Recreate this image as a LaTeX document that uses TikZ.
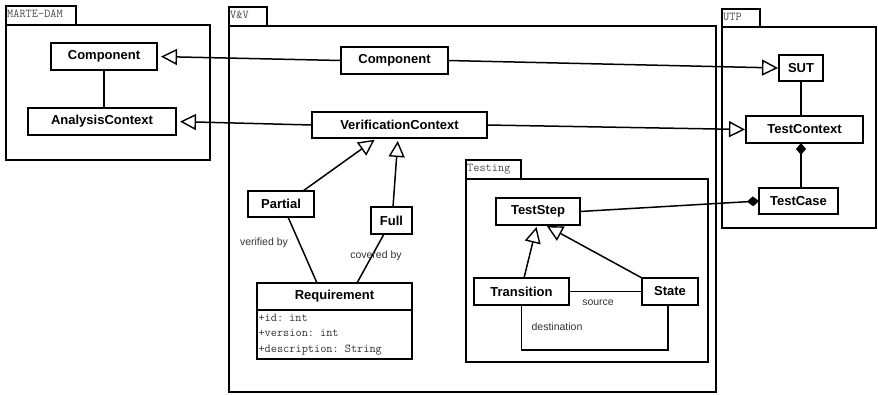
\documentclass[tikz,border=0pt]{standalone}
\usepackage{fontspec}
\setmainfont{Liberation Sans}
\usetikzlibrary{arrows.meta,calc}
\tikzset{
  cls/.style={draw, line width=1.8pt, fill=white, inner sep=0pt, outer sep=0pt,
    font=\fontsize{13}{15}\selectfont\bfseries},
  pkg/.style={draw, line width=1.4pt},
  pkglabel/.style={anchor=north west, inner sep=0pt, text=black!70,
    font=\fontsize{12}{13}\ttfamily},
  conn/.style={line width=1.5pt},
  gen/.style={conn, -{Triangle[open, length=16pt, width=16pt, line width=1.4pt]}},
  comp/.style={conn, -{Diamond[length=12pt, width=10pt]}},
  role/.style={inner sep=0pt, text=black!80, font=\fontsize{10.5}{12}\selectfont},
  attrs/.style={draw, line width=1.8pt, inner sep=1.5pt, outer sep=0pt, align=left,
    text=black!80, font=\fontsize{12}{15.5}\ttfamily}
}
\begin{document}
\begin{tikzpicture}[x=1pt, y=-1pt]
\useasboundingbox (0,0) rectangle (878,394);

% packages: tab and body
\draw[pkg] (6,6) rectangle (76,25);
\draw[pkg] (6,25) rectangle (210,160);
\node[pkglabel] (pkgMarte) at (7,10) {MARTE-DAM};

\draw[pkg] (229,7) rectangle (267,26);
\draw[pkg] (229,26) rectangle (716,392);
\node[pkglabel] (pkgVV) at (230,11) {V\&V};

\draw[pkg] (722,9) rectangle (760,27);
\draw[pkg] (722,27) rectangle (876,228);
\node[pkglabel] (pkgUTP) at (723,13) {UTP};

\draw[pkg] (466,160) rectangle (521,179);
\draw[pkg] (466,179) rectangle (708,362);
\node[pkglabel] (pkgTesting) at (467,164) {Testing};

% MARTE-DAM classes
\node[cls, minimum width=106pt, minimum height=27pt] (mComp) at (104,56.5) {Component};
\node[cls, minimum width=148pt, minimum height=27pt] (mAC) at (102,121.5) {AnalysisContext};

% V&V classes
\node[cls, minimum width=107pt, minimum height=27pt] (vComp) at (394.5,60.5) {Component};
\node[cls, minimum width=175pt, minimum height=26pt] (vVC) at (399.5,125) {VerificationContext};
\node[cls, minimum width=66pt, minimum height=26pt] (Partial) at (281,204) {Partial};
\node[cls, minimum width=41pt, minimum height=27pt] (Full) at (391.5,220.5) {Full};
\node[cls, minimum width=155pt, minimum height=27pt] (Req) at (334.5,296.5) {Requirement};
\node[attrs, minimum width=155pt, minimum height=49pt, text width=152pt, anchor=north]
  (ReqAttr) at (Req.south) {+id: int\\+version: int\\+description: String};

% UTP classes
\node[cls, minimum width=44pt, minimum height=26pt] (SUT) at (801,68) {SUT};
\node[cls, minimum width=117pt, minimum height=27pt] (TC) at (804.5,129.5) {TestContext};
\node[cls, minimum width=79pt, minimum height=26pt] (TCase) at (798.5,201) {TestCase};

% Testing classes
\node[cls, minimum width=84pt, minimum height=27pt] (TStep) at (538,211.5) {TestStep};
\node[cls, minimum width=95pt, minimum height=27pt] (Trans) at (521.5,291.5) {Transition};
\node[cls, minimum width=56pt, minimum height=27pt] (State) at (670,291.5) {State};
\coordinate (dstlow) at (600,350);

% MARTE-DAM association
\draw[conn] (mComp.south) -- (mComp.south |- mAC.north);

% generalisations across packages
\draw[gen, shorten >=4pt] (vComp.west) -- (mComp.east);
\draw[gen, shorten >=1pt] (vComp.east) -- (SUT.west);
\draw[gen, shorten >=4pt] (vVC.west) -- (mAC.east);
\draw[gen, shorten >=1pt] (vVC.east) -- (TC.west);

% UTP associations
\draw[conn] (SUT.south) -- (SUT.south |- TC.north);
\draw[comp] (SUT.south |- TCase.north) -- (SUT.south |- TC.south);
\draw[comp] (TStep.east) -- (TCase.west);

% verification kinds
\draw[gen, shorten >=3pt] ([xshift=22pt]Partial.north) -- ([xshift=-22.5pt]vVC.south);
\draw[gen, shorten >=3pt] ([xshift=1.5pt]Full.north) -- ([xshift=-1.5pt]vVC.south);
\draw[conn] ([xshift=7pt]Partial.south) -- ([xshift=-17.5pt]Req.north);
\draw[conn] ([xshift=-7.5pt]Full.south) -- ([xshift=22.5pt]Req.north);
\node[role] (lblVerified) at (264,243) {verified by};
\node[role] (lblCovered) at (376,256) {covered by};

% test steps
\draw[gen, shorten >=2pt] ([xshift=2.5pt]Trans.north) -- ([xshift=-1pt]TStep.south);
\draw[gen, shorten >=2pt] (State.north west) -- ([xshift=7pt]TStep.south);
\draw[conn] (Trans.east) -- (State.west);
\draw[conn] (Trans.south) |- (dstlow) -| ([xshift=-2pt]State.south);
\node[role] (lblSource) at (598,303) {source};
\node[role] (lblDest) at (557,327) {destination};
\end{tikzpicture}
\end{document}
